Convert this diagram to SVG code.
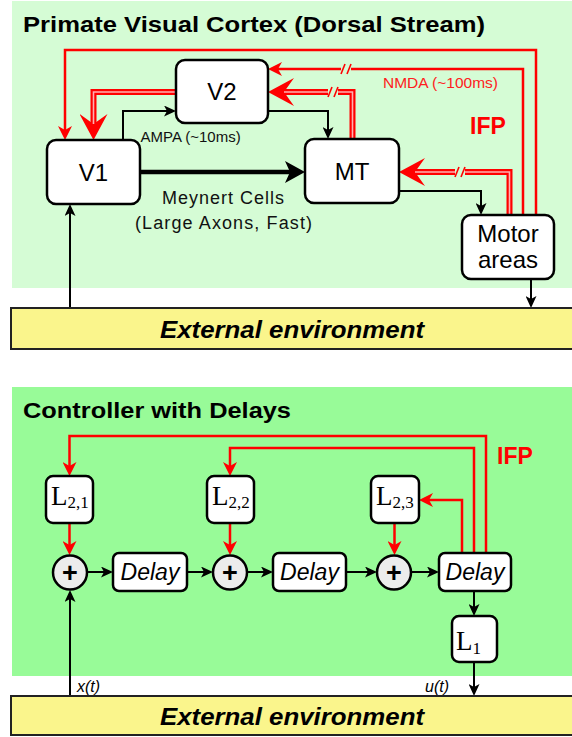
<svg xmlns="http://www.w3.org/2000/svg" width="572" height="737" viewBox="0 0 572 737">
<defs>
<style>
.box{fill:#fff;stroke:#000;stroke-width:2.5}
.env{fill:#faf58c;stroke:#222;stroke-width:2}
.sum{fill:#ececec;stroke:#000;stroke-width:2.5}
.blk{fill:none;stroke:#000;stroke-width:2}
.thk{fill:none;stroke:#000;stroke-width:4.5}
.red{fill:none;stroke:#ff0000;stroke-width:2.5}
.dbl{fill:none;stroke:#ff0000;stroke-width:6}
.dblin{fill:none;stroke:#ffb0b0;stroke-width:1.6}
.sans{font-family:"Liberation Sans",Arial,sans-serif}
.serif{font-family:"Liberation Serif","Times New Roman",serif}
.node{font-size:24px;fill:#000;text-anchor:middle}
.title{font-size:22px;font-weight:bold;fill:#000}
.ifp{font-size:23px;font-weight:bold;fill:#ff0000}
.envt{font-size:24px;font-weight:bold;font-style:italic;fill:#000;text-anchor:middle}
.delay{font-size:23px;font-style:italic;fill:#000;text-anchor:middle}
.plus{font-size:27px;font-weight:bold;fill:#000;text-anchor:middle}
.lab{font-size:16px;font-style:italic;fill:#000}
.ltx{font-size:27px;fill:#000}
.sub{font-size:17px}
</style>
<marker id="ab" markerUnits="userSpaceOnUse" viewBox="0 0 12 11" markerWidth="12" markerHeight="11" refX="3" refY="5.5" orient="auto">
<path d="M12,5.5 L0,0 L3,5.5 L0,11 Z" fill="#000"/>
</marker>
<marker id="at" markerUnits="userSpaceOnUse" viewBox="0 0 20 22" markerWidth="20" markerHeight="22" refX="5" refY="11" orient="auto">
<path d="M20,11 L0,0 L5,11 L0,22 Z" fill="#000"/>
</marker>
<marker id="ar" markerUnits="userSpaceOnUse" viewBox="0 0 14 14" markerWidth="14" markerHeight="14" refX="4" refY="7" orient="auto">
<path d="M14,7 L0,0 L4,7 L0,14 Z" fill="#ff0000"/>
</marker>
<marker id="abig" markerUnits="userSpaceOnUse" viewBox="0 0 26 28" markerWidth="26" markerHeight="28" refX="10" refY="14" orient="auto">
<path d="M26,14 L0,0 L10,14 L0,28 Z" fill="#ff0000"/>
</marker>
<symbol id="brk" overflow="visible">
<rect x="-5" y="-5" width="10" height="10" fill="#d5fcd5"/>
<line x1="-5" y1="5" x2="-1" y2="-5" stroke="#ff0000" stroke-width="1.6"/>
<line x1="1" y1="5" x2="5" y2="-5" stroke="#ff0000" stroke-width="1.6"/>
</symbol>
</defs>

<rect x="0" y="0" width="572" height="737" fill="#fff"/>
<!-- panels -->
<rect id="panel-top" x="12" y="1" width="560" height="287" fill="#d5fcd5"/>
<rect id="panel-bottom" x="12" y="387" width="560" height="289" fill="#98fb98"/>

<text class="sans title" x="23" y="32" textLength="462" lengthAdjust="spacingAndGlyphs">Primate Visual Cortex (Dorsal Stream)</text>
<text class="sans title" x="23" y="418" font-size="21" textLength="268" lengthAdjust="spacingAndGlyphs">Controller with Delays</text>

<!-- connectors -->
<g id="connectors">
<!-- top: black -->
<path class="blk" d="M123,140 V111 H167" marker-end="url(#ab)"/>
<path class="blk" d="M268,111 H328 V130" marker-end="url(#ab)"/>
<path class="blk" d="M399,191 H481 V206" marker-end="url(#ab)"/>
<path class="blk" d="M531,279 V299" marker-end="url(#ab)"/>
<path class="blk" d="M70,308 V213" marker-end="url(#ab)"/>
<path class="thk" d="M140,172 H290" marker-end="url(#at)"/>
<!-- top: red single -->
<path class="red" d="M536,215 V50 H65 V130" marker-end="url(#ar)"/>
<path class="red" d="M523,215 V69 H278" marker-end="url(#ar)"/>
<!-- top: red double -->
<path class="dbl" d="M352.5,139 V92 H284" marker-end="url(#abig)"/>
<path class="dblin" d="M352.5,139 V92 H284"/>
<path class="dbl" d="M176,92 H93.5 V124" marker-end="url(#abig)"/>
<path class="dblin" d="M176,92 H93.5 V124"/>
<path class="dbl" d="M509.5,215 V172 H415" marker-end="url(#abig)"/>
<path class="dblin" d="M509.5,215 V172 H415"/>
<use href="#brk" x="346" y="69"/>
<use href="#brk" x="333" y="92"/>
<use href="#brk" x="460" y="172"/>
<!-- bottom: black -->
<path class="blk" d="M87,572 H104" marker-end="url(#ab)"/>
<path class="blk" d="M187,572 H204" marker-end="url(#ab)"/>
<path class="blk" d="M247,572 H264" marker-end="url(#ab)"/>
<path class="blk" d="M346,572 H368" marker-end="url(#ab)"/>
<path class="blk" d="M411,572 H430" marker-end="url(#ab)"/>
<path class="blk" d="M474,591 V607" marker-end="url(#ab)"/>
<path class="blk" d="M474,662 V687" marker-end="url(#ab)"/>
<path class="blk" d="M70,696 V599" marker-end="url(#ab)"/>
<!-- bottom: red -->
<path class="red" d="M486,553 V436 H69.5 V466" marker-end="url(#ar)"/>
<path class="red" d="M474,553 V448 H230 V466" marker-end="url(#ar)"/>
<path class="red" d="M462,553 V500 H429" marker-end="url(#ar)"/>
<path class="red" d="M69.5,523 V545" marker-end="url(#ar)"/>
<path class="red" d="M230,523 V545" marker-end="url(#ar)"/>
<path class="red" d="M394.5,523 V545" marker-end="url(#ar)"/>
</g>

<!-- labels -->
<text class="sans" x="140.5" y="142" font-size="15" fill="#111">AMPA (~10ms)</text>
<text class="sans" x="383" y="88" font-size="15.5" fill="#ff2020">NMDA (~100ms)</text>
<text class="sans ifp" x="470" y="134">IFP</text>
<text class="sans ifp" x="497" y="464">IFP</text>
<text class="sans" x="162" y="204" font-size="18" fill="#111" textLength="122" lengthAdjust="spacing">Meynert Cells</text>
<text class="sans" x="135" y="229" font-size="18" fill="#111" textLength="177" lengthAdjust="spacing">(Large Axons, Fast)</text>
<text class="sans lab" x="77" y="692">x(t)</text>
<text class="sans lab" x="425" y="692">u(t)</text>

<!-- top nodes -->
<g id="V2"><rect class="box" x="176" y="60" width="92" height="63" rx="9"/><text class="sans node" x="222" y="100">V2</text></g>
<g id="V1"><rect class="box" x="47" y="140" width="93" height="64" rx="9"/><text class="sans node" x="93.5" y="181">V1</text></g>
<g id="MT"><rect class="box" x="305" y="139" width="94" height="64" rx="9"/><text class="sans node" x="352" y="180">MT</text></g>
<g id="motor"><rect class="box" x="462" y="215" width="92" height="64" rx="9"/><text class="sans node" x="508" y="242" font-size="23">Motor</text><text class="sans node" x="508" y="268" font-size="23">areas</text></g>
<g id="env-top"><rect class="env" x="11" y="308" width="570" height="41"/><text class="sans envt" x="292" y="338" textLength="264" lengthAdjust="spacingAndGlyphs">External environment</text></g>

<!-- bottom nodes -->
<g id="L21"><rect class="box" x="46" y="476" width="47" height="47" rx="7"/><text class="serif ltx" x="51" y="505">L<tspan class="sub" dy="3">2,1</tspan></text></g>
<g id="L22"><rect class="box" x="207" y="476" width="47" height="47" rx="7"/><text class="serif ltx" x="212" y="505">L<tspan class="sub" dy="3">2,2</tspan></text></g>
<g id="L23"><rect class="box" x="371" y="476" width="48" height="47" rx="7"/><text class="serif ltx" x="376" y="505">L<tspan class="sub" dy="3">2,3</tspan></text></g>
<g id="sum1"><circle class="sum" cx="70" cy="572.5" r="17"/><text class="sans plus" x="70" y="582">+</text></g>
<g id="sum2"><circle class="sum" cx="230" cy="572.5" r="17"/><text class="sans plus" x="230" y="582">+</text></g>
<g id="sum3"><circle class="sum" cx="394" cy="572.5" r="17"/><text class="sans plus" x="394" y="582">+</text></g>
<g id="delay1"><rect class="box" x="113" y="553" width="74" height="38" rx="6"/><text class="sans delay" x="150" y="580">Delay</text></g>
<g id="delay2"><rect class="box" x="273" y="553" width="73" height="38" rx="6"/><text class="sans delay" x="309.5" y="580">Delay</text></g>
<g id="delay3"><rect class="box" x="439" y="553" width="72" height="38" rx="6"/><text class="sans delay" x="475" y="580">Delay</text></g>
<g id="L1"><rect class="box" x="452" y="616" width="45" height="46" rx="7"/><text class="serif ltx" x="456" y="650">L<tspan class="sub" dy="4">1</tspan></text></g>
<g id="env-bottom"><rect class="env" x="11" y="696" width="570" height="39"/><text class="sans envt" x="292" y="725" textLength="264" lengthAdjust="spacingAndGlyphs">External environment</text></g>
</svg>
